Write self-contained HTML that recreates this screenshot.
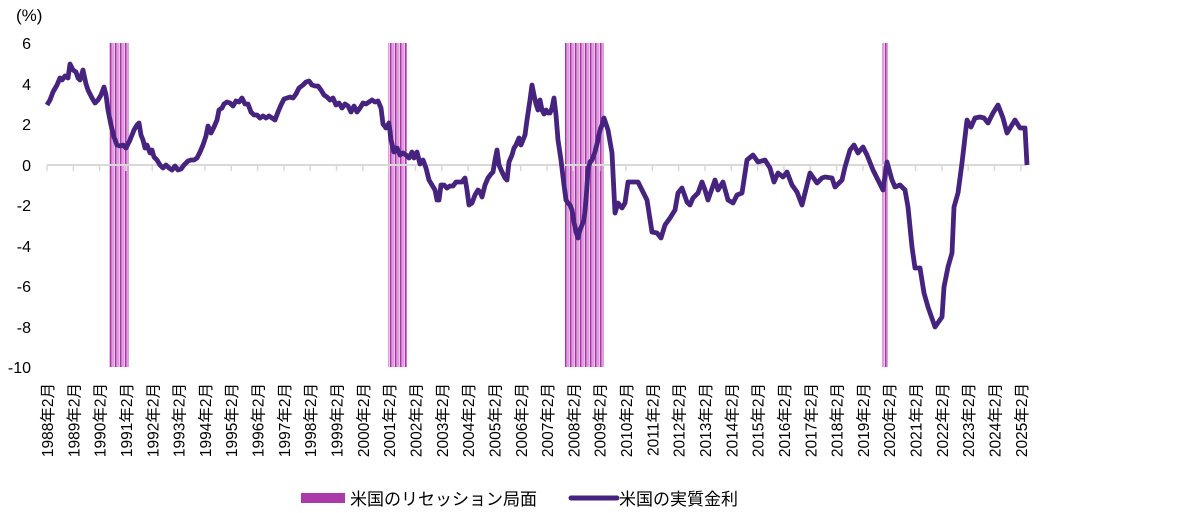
<!DOCTYPE html>
<html><head><meta charset="utf-8"><style>
body{margin:0;background:#fff;}
svg{display:block;font-family:"Liberation Sans","Noto Sans CJK JP",sans-serif;}
</style></head><body>
<svg width="1195" height="513" viewBox="0 0 1195 513" xmlns="http://www.w3.org/2000/svg">
<defs>
<pattern id="st" width="5" height="10" patternUnits="userSpaceOnUse">
<rect width="5" height="10" fill="#ecc4ea"/>
<rect x="0" width="1.5" height="10" fill="#b02fae"/>
<rect x="2.5" width="1" height="10" fill="#cf7ccd"/>
</pattern>
</defs>
<rect x="109" y="43" width="20" height="324" fill="url(#st)"/>
<rect x="388" y="43" width="19" height="324" fill="url(#st)"/>
<rect x="565" y="43" width="39" height="324" fill="url(#st)"/>
<rect x="882" y="43" width="6" height="324" fill="url(#st)"/>
<g font-size="16" fill="#000" text-anchor="end">
<text x="31" y="49">6</text><text x="31" y="90">4</text><text x="31" y="130">2</text><text x="31" y="171">0</text>
<text x="31" y="211">-2</text><text x="31" y="252">-4</text><text x="31" y="292">-6</text><text x="31" y="333">-8</text><text x="31" y="373">-10</text>
</g>
<text x="16" y="21" font-size="17">(%)</text>
<line x1="47" y1="165" x2="1027" y2="165" stroke="#d9d9d9" stroke-width="2"/>
<g stroke="#d9d9d9" stroke-width="1.5" id="ticks"></g>
<g id="labs" font-size="15.5"></g>
<polyline fill="none" stroke="#46237f" stroke-width="4.8" stroke-linejoin="round" points="
47,105 50,100 53,92 57,85 60,78 62,80 65,76 68,78 70,64 73,70 76,72 78,78 80,80 83,70 86,84 88,90 92,98 95,103 98,100 101,95 104,87 106,95 108,110 111,125 114,137 117,145 120,146 123,145 126,148 130,140 134,130 137,125 139,123 141,135 143,140 145,148 147,145 150,153 152,150 154,157 157,160 160,165 163,168 166,165 169,168 172,170 175,166 178,170 181,169 184,165 188,161 191,160 194,160 197,158 200,152 203,145 206,136 208,126 211,133 214,127 217,120 219,110 222,108 224,104 227,102 230,103 233,106 236,101 239,102 242,98 245,104 248,104 251,112 254,115 257,115 260,118 263,116 266,118 269,116 272,118 275,120 278,112 281,105 284,99 287,98 290,97 293,98 296,94 299,88 303,85 306,82 309,81 312,85 315,86 318,86 321,90 324,95 327,97 330,100 333,98 336,105 339,103 342,108 345,104 348,106 351,112 354,106 357,112 360,108 363,103 366,104 369,102 372,100 375,102 378,101 381,108 383,124 386,128 389,123 391,140 394,152 397,148 400,155 403,153 406,155 409,158 412,152 414,158 417,152 420,164 423,160 426,168 429,180 432,185 435,190 437,200 439,200 441,185 444,185 447,188 450,186 453,186 456,182 459,182 462,182 465,178 467,190 469,205 472,203 475,195 478,190 480,192 482,197 485,185 488,178 491,174 493,172 495,160 497,150 499,165 502,172 505,178 507,180 509,162 512,155 514,148 516,145 519,138 521,145 523,140 525,135 527,120 530,100 532,85 534,95 536,104 538,110 540,100 542,110 544,114 546,110 548,113 550,113 552,108 554,98 556,115 558,140 561,160 564,185 566,200 568,203 570,205 572,210 574,222 576,232 578,238 580,230 582,225 584,220 586,200 588,170 590,162 592,160 594,155 596,148 598,140 600,130 602,125 604,118 608,130 612,153 615,213 618,203 622,208 625,203 628,182 633,182 638,182 643,192 647,200 652,232 657,233 661,238 665,225 670,218 675,210 678,193 682,188 687,202 690,205 693,198 698,193 702,182 705,190 708,200 715,180 718,190 723,182 728,200 733,203 737,195 742,193 747,160 753,155 758,162 765,160 770,168 774,182 778,173 783,177 787,172 792,185 797,192 802,205 810,173 817,183 822,178 825,177 832,178 835,187 842,180 845,167 850,150 854,145 858,153 863,147 867,155 873,170 878,180 883,190 887,162 892,180 895,187 900,185 905,190 908,207 912,247 915,268 920,268 924,293 928,307 935,327 942,317 944,287 948,267 952,253 954,207 958,193 962,163 967,120 971,127 975,118 980,117 984,118 988,123 993,113 998,105 1003,118 1007,133 1015,120 1020,128 1025,128 1027,165"/>
<rect x="301" y="493" width="44" height="10" fill="#a93aa8"/>
<text x="350" y="505" font-size="17">米国のリセッション局面</text>
<line x1="571" y1="498" x2="617" y2="498" stroke="#46237f" stroke-width="5" stroke-linecap="round"/>
<text x="619" y="505" font-size="17">米国の実質金利</text>
<script>
var t=document.getElementById('ticks'),l=document.getElementById('labs'),ns='http://www.w3.org/2000/svg';
for(var i=0;i<=37;i++){var x=47+i*26.32;
var ln=document.createElementNS(ns,'line');ln.setAttribute('x1',x);ln.setAttribute('x2',x);ln.setAttribute('y1',165);ln.setAttribute('y2',171);t.appendChild(ln);
var tx=document.createElementNS(ns,'text');tx.setAttribute('transform','translate('+(x+6)+',383) rotate(-90)');tx.setAttribute('text-anchor','end');tx.textContent=(1988+i)+'年2月';l.appendChild(tx);}
</script>
</svg>
</body></html>
